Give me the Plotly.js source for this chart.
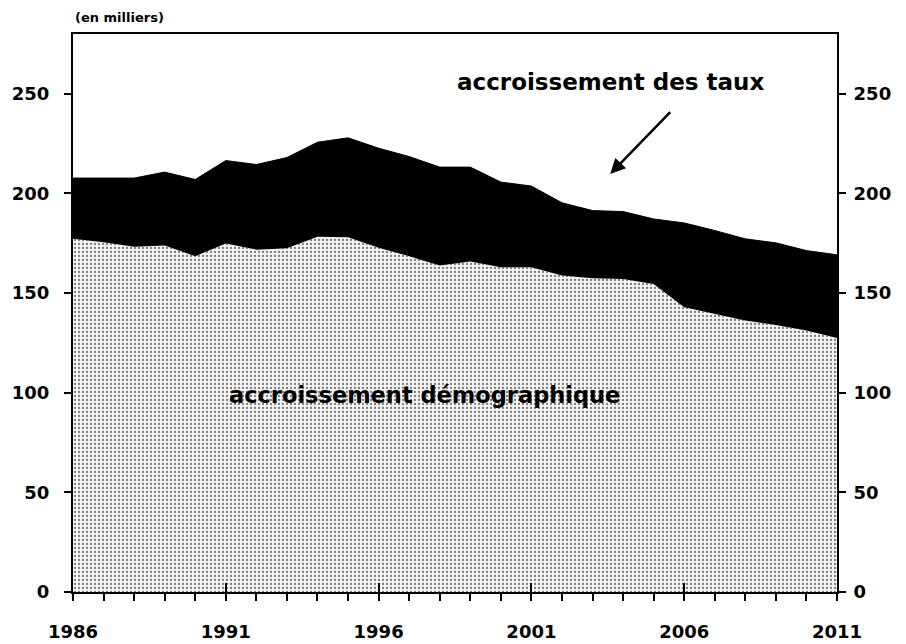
<!DOCTYPE html>
<html>
<head>
<meta charset="utf-8">
<script src="https://cdn.plot.ly/plotly-3.0.1.min.js"></script>
<style>html,body{margin:0;padding:0;background:#fff;}#chart{width:906px;height:644px;}</style>
</head>
<body>
<div id="chart"></div>
<script>
const years = [1986,1987,1988,1989,1990,1991,1992,1993,1994,1995,1996,1997,1998,1999,2000,2001,2002,2003,2004,2005,2006,2007,2008,2009,2010,2011];
const demographique = [177.2,175.5,173.2,173.9,168.5,174.9,171.8,172.5,178.2,178.0,172.8,168.5,163.8,165.8,163.0,163.0,158.8,157.5,157.1,154.6,142.9,139.6,136.2,134.0,131.2,127.4];
const total = [207.7,207.7,207.7,210.7,207.0,216.5,214.5,218.0,225.7,227.9,222.7,218.5,213.2,213.2,205.7,203.7,195.3,191.4,190.9,187.2,185.2,181.4,177.2,175.2,171.3,169.2];
const xTickVals = [1986,1991,1996,2001,2006,2011];
const yTickVals = [0,50,100,150,200,250];
const unitLabel = "(en milliers)";
const labelDemo = "accroissement démographique";
const labelTaux = "accroissement des taux";

const FONT = "DejaVu Sans, Liberation Sans, Arial, sans-serif";
const tickFont = {family: FONT, size: 18, color: "#000", weight: 700};

const traces = [
  {x: years, y: demographique, type: "scatter", mode: "lines", fill: "tozeroy",
   line: {width: 0, color: "#bdbdbd"},
   fillpattern: {shape: ".", size: 4, solidity: 0.25, fgcolor: "#7a7a7a", bgcolor: "#f5f5f5"},
   hoverinfo: "skip", showlegend: false},
  {x: years, y: total, type: "scatter", mode: "lines", fill: "tonexty",
   fillcolor: "#000", line: {width: 1, color: "#000"}, hoverinfo: "skip", showlegend: false},
  {x: [years[0]], y: [total[0]], xaxis: "x", yaxis: "y2", type: "scatter", mode: "none", hoverinfo: "skip", showlegend: false},
  {x: [years[0]], y: [total[0]], xaxis: "x2", yaxis: "y", type: "scatter", mode: "none", hoverinfo: "skip", showlegend: false}
];

const layout = {
  width: 906, height: 644,
  margin: {l: 73, r: 69, t: 34, b: 52, pad: 0},
  paper_bgcolor: "#fff", plot_bgcolor: "#fff",
  showlegend: false,
  xaxis: {range: [1986, 2011], tickvals: xTickVals, ticktext: xTickVals.map(String),
    ticks: "outside", ticklen: 7, tickwidth: 2, tickcolor: "#000",
    minor: {dtick: 1, tick0: 1986, ticks: "outside", ticklen: 7, tickwidth: 2, tickcolor: "#000"},
    showline: true, linecolor: "#000", linewidth: 2, mirror: true,
    showgrid: false, zeroline: false, tickfont: tickFont, ticklabelstandoff: 15, fixedrange: true},
  xaxis2: {range: [1986, 2011], overlaying: "x", anchor: "y", tickvals: xTickVals,
    ticks: "inside", ticklen: 9, tickwidth: 2, tickcolor: "#000", showticklabels: false,
    showline: false, showgrid: false, zeroline: false},
  yaxis: {range: [0, 280], tickvals: yTickVals, ticks: "outside", ticklen: 7, tickwidth: 2, tickcolor: "#000",
    showline: true, linecolor: "#000", linewidth: 2, showgrid: false, zeroline: false,
    tickfont: tickFont, ticklabelstandoff: 11, fixedrange: true},
  yaxis2: {range: [0, 280], overlaying: "y", side: "right", anchor: "x", tickvals: yTickVals,
    ticks: "outside", ticklen: 7, tickwidth: 2, tickcolor: "#000",
    showline: true, linecolor: "#000", linewidth: 2, showgrid: false, zeroline: false,
    tickfont: tickFont, ticklabelstandoff: 4, fixedrange: true},
  annotations: [
    {xref: "paper", yref: "paper", x: 0, y: 1, xanchor: "left", yanchor: "bottom", yshift: 7,
     text: unitLabel, showarrow: false, font: {family: FONT, size: 13, color: "#000", weight: 700}},
    {xref: "x", yref: "y", x: 2003.58, y: 256, text: labelTaux, showarrow: false,
     font: {family: FONT, size: 23, color: "#000", weight: 700}},
    {xref: "x", yref: "y", x: 1997.5, y: 99.1, text: labelDemo, showarrow: false,
     font: {family: FONT, size: 22.5, color: "#000", weight: 700}},
    {xref: "x", yref: "y", axref: "x", ayref: "y", x: 2003.58, y: 209.8, ax: 2005.59, ay: 241.6,
     text: "", showarrow: true, arrowhead: 2, arrowsize: 1.2, arrowwidth: 2.5, arrowcolor: "#000", standoff: 0}
  ]
};

Plotly.newPlot("chart", traces, layout, {staticPlot: true, displayModeBar: false});
</script>
</body>
</html>
